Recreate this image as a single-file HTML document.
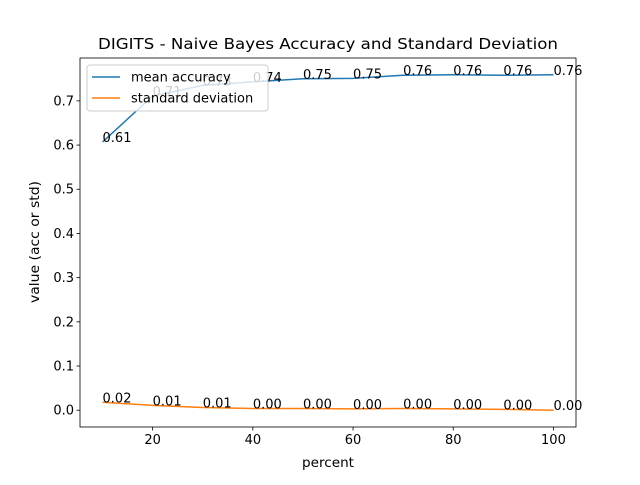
<!DOCTYPE html>
<html><head><meta charset="utf-8"><style>
body{margin:0;background:#fff;}
svg text{font-family:"DejaVu Sans","Liberation Sans",sans-serif;}
</style></head><body>
<svg id="chart" width="640" height="480" viewBox="0 0 640 480" xmlns="http://www.w3.org/2000/svg">
<rect width="640" height="480" fill="#fff"/>
<text x="328" y="49" text-anchor="middle" font-size="15.5" textLength="460" lengthAdjust="spacingAndGlyphs">DIGITS - Naive Bayes Accuracy and Standard Deviation</text>
<g id="plot"></g>
<text x="328" y="467" text-anchor="middle" font-size="13" textLength="52" lengthAdjust="spacingAndGlyphs">percent</text>
<text transform="translate(39,242) rotate(-90)" text-anchor="middle" font-size="13" textLength="122" lengthAdjust="spacingAndGlyphs">value (acc or std)</text>
</svg>
<script>
const percents=[10,20,30,40,50,60,70,80,90,100];
const meanAcc=[0.607,0.711,0.735,0.743,0.750,0.751,0.758,0.759,0.758,0.759];
const stdDev=[0.018,0.011,0.006,0.004,0.004,0.003,0.004,0.003,0.002,0.000];
const xTicks=[20,40,60,80,100];
const yTicks=[0.0,0.1,0.2,0.3,0.4,0.5,0.6,0.7];
const L=80,R=576,T=58,B=427;
const xmin=5.5,xmax=104.5,ymin=-0.038,ymax=0.797;
const sx=v=>L+(v-xmin)/(xmax-xmin)*(R-L);
const sy=v=>B-(v-ymin)/(ymax-ymin)*(B-T);
const NS="http://www.w3.org/2000/svg";
const g=document.getElementById('plot');
function mk(t,a){const e=document.createElementNS(NS,t);for(const k in a)e.setAttribute(k,a[k]);g.appendChild(e);return e;}
xTicks.forEach(v=>{
 const l=mk('line',{x1:sx(v),x2:sx(v),y1:B,y2:B+3.5,stroke:'#000','stroke-width':0.8});
 
 
 const t=mk('text',{x:sx(v),y:B+17,'text-anchor':'middle','font-size':13});t.textContent=v;
 
 
});
yTicks.forEach(v=>{
 const l=mk('line',{x1:L-3.5,x2:L,y1:sy(v),y2:sy(v),stroke:'#000','stroke-width':0.8});
 
 
 const t=mk('text',{x:L-6,y:sy(v)+4.5,'text-anchor':'end','font-size':13});t.textContent=v.toFixed(1);
 
 
});
function series(vals,color,name){
 const p=mk('polyline',{points:percents.map((x,i)=>sx(x)+','+sy(vals[i])).join(' '),fill:'none',stroke:color,'stroke-width':1.5});
 
 
 percents.forEach((x,i)=>{
  const t=mk('text',{x:sx(x),y:sy(vals[i]),'font-size':13});t.textContent=vals[i].toFixed(2);
  
  
 });
}
series(meanAcc,'#1f77b4','mean-accuracy');
series(stdDev,'#ff7f0e','standard-deviation');
const fr=mk('rect',{x:L,y:T,width:R-L,height:B-T,fill:'none',stroke:'#000','stroke-width':0.8});


const lg=mk('rect',{x:87,y:65,width:181,height:46,rx:3,fill:'#fff','fill-opacity':0.8,stroke:'#ccc'});


[['mean accuracy','#1f77b4',77],['standard deviation','#ff7f0e',98]].forEach(([n,c,y])=>{
 const l=mk('line',{x1:92,x2:120,y1:y,y2:y,stroke:c,'stroke-width':1.5});
 
 
 const t=mk('text',{x:131,y:y+4.5,'font-size':13});t.textContent=n;
 
 
});
</script>
</body></html>
